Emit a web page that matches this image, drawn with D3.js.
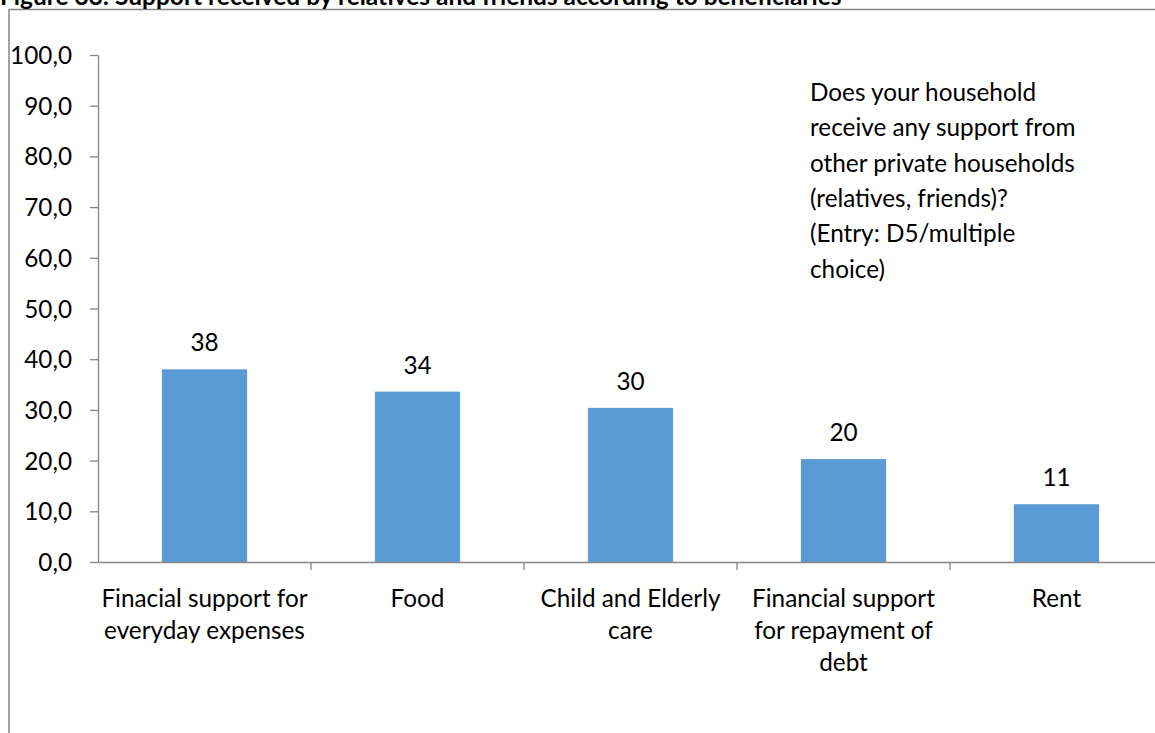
<!DOCTYPE html>
<html>
<head>
<meta charset="utf-8">
<script src="https://cdn.jsdelivr.net/npm/d3@7"></script>
<style>
  html, body { margin: 0; padding: 0; background: #fff; }
  svg { display: block; }
</style>
</head>
<body>
<svg id="chart" width="1155" height="733"></svg>
<script>
// ---- data ----
const title = "Figure 33: Support received by relatives and friends according to beneficiaries";
const categories = [
  "Finacial support for\neveryday expenses",
  "Food",
  "Child and Elderly\ncare",
  "Financial support\nfor repayment of\ndebt",
  "Rent"
];
const values = [38.0, 33.6, 30.4, 20.3, 11.4];
const yTicks = [0, 10, 20, 30, 40, 50, 60, 70, 80, 90, 100];
const note = [
  "Does your household",
  "receive any support from",
  "other private households",
  "(relatives, friends)?",
  "(Entry: D5/multiple",
  "choice)"
];

// ---- setup ----
const W = 1155, H = 733;
const svg = d3.select("#chart");
const FONT = "Lato, 'Open Sans', sans-serif";
const AXIS = "#868686";
const BAR = "#5B9BD5";

function fitSize(text, target, weight) {
  const t = svg.append("text").attr("font-family", FONT).attr("font-size", 100)
    .attr("font-weight", weight || "normal").text(text);
  const w = t.node().getComputedTextLength();
  t.remove();
  return 100 * target / w;
}
const fs = fitSize("Child and Elderly", 180);
const titleFs = fitSize(title, 842, "bold");

const margin = { left: 98, right: 1163, top: 55, bottom: 562 };

const x = d3.scaleBand().domain(categories).range([margin.left, margin.right])
  .paddingInner(0).paddingOuter(0);
const xBar = d3.scaleBand().domain(categories).range([margin.left, margin.right])
  .paddingInner(0.6).paddingOuter(0.3);
const y = d3.scaleLinear().domain([0, 100]).range([margin.bottom, margin.top]);

const commaFmt = d => d3.format(".1f")(d).replace(".", ",");

// chart area border
svg.append("rect")
  .attr("x", 9).attr("y", 9.5)
  .attr("width", W + 20).attr("height", H + 20)
  .attr("fill", "none").attr("stroke", AXIS).attr("stroke-width", 1.5);

// title (clipped at top)
svg.append("text")
  .attr("x", 0).attr("y", 5)
  .attr("font-family", FONT).attr("font-weight", "bold")
  .attr("font-size", titleFs).attr("fill", "#000")
  .text(title);

// bars
svg.append("g").selectAll("rect").data(categories).join("rect")
  .attr("x", d => xBar(d))
  .attr("width", xBar.bandwidth())
  .attr("y", (d, i) => y(values[i]))
  .attr("height", (d, i) => y(0) - y(values[i]))
  .attr("fill", BAR);

// y axis
const yAxis = svg.append("g")
  .attr("transform", `translate(${margin.left},0)`)
  .call(d3.axisLeft(y).tickValues(yTicks).tickFormat(commaFmt)
    .tickSize(8).tickSizeOuter(0).tickPadding(18));
yAxis.select(".domain").attr("stroke", AXIS).attr("stroke-width", 1.3);
yAxis.selectAll(".tick line").attr("stroke", AXIS).attr("stroke-width", 1.3);
yAxis.selectAll(".tick text").attr("font-family", FONT).attr("font-size", fs)
  .attr("fill", "#000").attr("dy", "0.35em");

// x axis
const xAxis = svg.append("g")
  .attr("transform", `translate(0,${margin.bottom})`)
  .call(d3.axisBottom(x).tickSize(0).tickSizeOuter(0).tickFormat(""));
xAxis.select(".domain").attr("stroke", AXIS).attr("stroke-width", 1.3);
xAxis.selectAll(".tick").remove();
// category boundary ticks
const bounds = categories.map(c => x(c)).concat([x(categories[categories.length - 1]) + x.bandwidth()]);
xAxis.selectAll("line.b").data(bounds.slice(1)).join("line")
  .attr("class", "b")
  .attr("x1", d => d).attr("x2", d => d)
  .attr("y1", 0).attr("y2", 8)
  .attr("stroke", AXIS).attr("stroke-width", 1.3);

// category labels
const lineH = 32;
svg.append("g").selectAll("text").data(categories).join("text")
  .attr("font-family", FONT).attr("font-size", fs).attr("fill", "#000")
  .attr("text-anchor", "middle")
  .each(function(d) {
    const t = d3.select(this);
    d.split("\n").forEach((ln, k) => {
      t.append("tspan")
        .attr("x", x(d) + x.bandwidth() / 2)
        .attr("y", margin.bottom + 45 + k * lineH)
        .text(ln);
    });
  });

// data labels
svg.append("g").selectAll("text").data(categories).join("text")
  .attr("font-family", FONT).attr("font-size", fs).attr("fill", "#000")
  .attr("text-anchor", "middle")
  .attr("x", d => xBar(d) + xBar.bandwidth() / 2)
  .attr("y", (d, i) => y(values[i]) - 18)
  .text((d, i) => d3.format(".0f")(values[i]));

// annotation
const noteG = svg.append("text")
  .attr("font-family", FONT).attr("font-size", fs).attr("fill", "#000");
note.forEach((ln, k) => {
  noteG.append("tspan").attr("x", 810).attr("y", 101 + k * 35.3).text(ln);
});
</script>
</body>
</html>
